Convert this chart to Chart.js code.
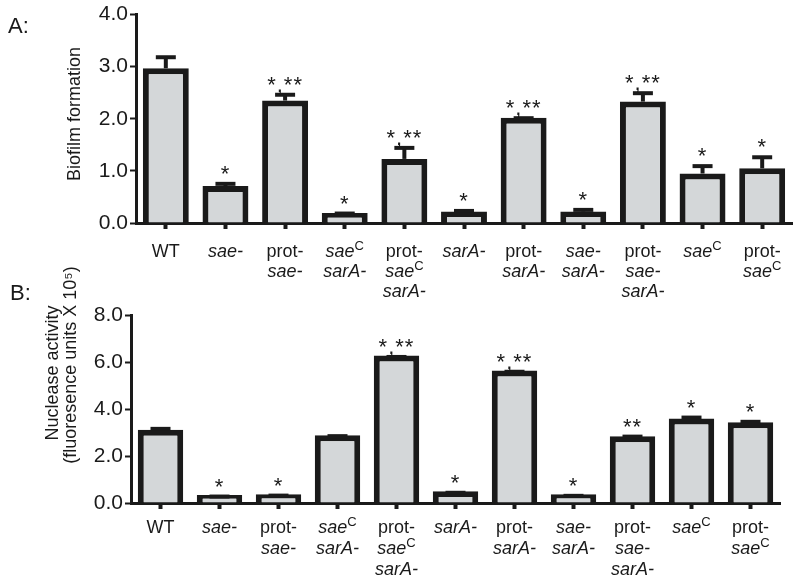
<!DOCTYPE html>
<html>
<head>
<meta charset="utf-8">
<script src="https://cdn.jsdelivr.net/npm/chart.js@4"></script>
<style>
  body { margin: 0; background: #fff; }
  #wrap { position: relative; width: 800px; height: 582px; overflow: hidden; }
  canvas { position: absolute; left: 0; }
  #biofilmChart { top: 0; }
  #nucleaseChart { top: 250px; }
</style>
</head>
<body>
<div id="wrap">
  <canvas id="biofilmChart" width="800" height="300"></canvas>
  <canvas id="nucleaseChart" width="800" height="332"></canvas>
</div>
<script>
// _x_ = italic, ^C = superscript, \n = new line
const categories = ['WT', '_sae-_', 'prot-\n_sae-_', '_sae_^C\n_sarA-_', 'prot-\n_sae_^C\n_sarA-_', '_sarA-_',
  'prot-\n_sarA-_', '_sae-_\n_sarA-_', 'prot-\n_sae-_\n_sarA-_', '_sae_^C', 'prot-\n_sae_^C'];

const biofilm = [2.97, 0.71, 2.35, 0.19, 1.23, 0.22, 2.02, 0.22, 2.33, 0.95, 1.05];
const biofilmErr = [0.25, 0.08, 0.15, 0.03, 0.25, 0.05, 0.03, 0.07, 0.2, 0.18, 0.25];
const biofilmSig = ['', '*', '*,**', '*', '*,**', '*', '*,**', '*', '*,**', '*', '*'];

const nuclease = [3.12, 0.34, 0.37, 2.88, 6.28, 0.5, 5.64, 0.37, 2.84, 3.6, 3.44];
const nucleaseErr = [0.12, 0.02, 0.03, 0.05, 0.02, 0.02, 0.03, 0.02, 0.07, 0.12, 0.1];
const nucleaseSig = ['', '*', '*', '', '*,**', '*', '*,**', '*', '**', '*', '*'];

const FONT = '"Liberation Sans", Arial, Helvetica, sans-serif';
const INK = '#1a1a1a';

function parseLabel(str) {
  return str.split('\n').map(line => {
    const segs = [];
    let italic = false, i = 0, buf = '';
    const push = () => { if (buf) segs.push({text: buf, italic: italic, sup: false}); buf = ''; };
    while (i < line.length) {
      const c = line[i];
      if (c === '_') { push(); italic = !italic; }
      else if (c === '^') { push(); segs.push({text: line[i + 1], italic: false, sup: true}); i++; }
      else buf += c;
      i++;
    }
    push();
    return segs;
  });
}

function segFont(s, size) {
  return (s.italic ? 'italic ' : '') + (s.sup ? Math.round(size * 0.7) : size) + 'px ' + FONT;
}

function drawRichLabel(ctx, str, cx, y, lh, size) {
  parseLabel(str).forEach((segs, li) => {
    let w = 0;
    segs.forEach(s => { ctx.font = segFont(s, size); w += ctx.measureText(s.text).width; });
    let x = cx - w / 2;
    segs.forEach(s => {
      ctx.font = segFont(s, size);
      ctx.fillText(s.text, x, y + li * lh - (s.sup ? size * 0.38 : 0));
      x += ctx.measureText(s.text).width;
    });
  });
}

// error bars, significance stars, rich x labels, y titles, panel letters
const extras = {
  id: 'extras',
  afterDatasetsDraw(chart, args, opts) {
    const ctx = chart.ctx;
    const y = chart.scales.y;
    const meta = chart.getDatasetMeta(0);
    ctx.save();
    ctx.strokeStyle = INK;
    ctx.fillStyle = INK;
    meta.data.forEach((bar, i) => {
      const v = opts.values[i];
      const top = y.getPixelForValue(v + opts.errors[i]);
      ctx.lineWidth = 4;
      ctx.beginPath();
      ctx.moveTo(bar.x, bar.y);
      ctx.lineTo(bar.x, top + 2);
      ctx.stroke();
      ctx.beginPath();
      ctx.moveTo(bar.x - 10, top + 2);
      ctx.lineTo(bar.x + 10, top + 2);
      ctx.stroke();
      if (opts.sig[i]) {
        ctx.font = '22px ' + FONT;
        ctx.letterSpacing = '1px';
        ctx.textAlign = 'center';
        ctx.textBaseline = 'alphabetic';
        ctx.fillText(opts.sig[i], bar.x, top - 1);
        ctx.letterSpacing = '0px';
      }
    });

    ctx.textAlign = 'left';
    ctx.textBaseline = 'alphabetic';
    const x = chart.scales.x;
    categories.forEach((c, i) => {
      drawRichLabel(ctx, c, x.getPixelForValue(i), chart.chartArea.bottom + opts.labelOffset, opts.lineHeight, 18);
    });

    ctx.font = '18px ' + FONT;
    ctx.textAlign = 'center';
    opts.titles.forEach(t => {
      ctx.save();
      ctx.translate(t.x, t.y);
      ctx.rotate(-Math.PI / 2);
      ctx.fillText(t.text, 0, 0);
      ctx.restore();
    });

    ctx.font = '22px ' + FONT;
    ctx.textAlign = 'left';
    ctx.fillText(opts.panel.text, opts.panel.x, opts.panel.y);
    ctx.restore();
  }
};

function makeChart(id, values, errors, sig, max, step, axisX, padding, extraOpts) {
  return new Chart(document.getElementById(id), {
    type: 'bar',
    data: {
      labels: categories,
      datasets: [{
        data: values,
        backgroundColor: '#d4d7d9',
        borderColor: INK,
        borderWidth: 6,
        borderSkipped: 'bottom',
        categoryPercentage: 1,
        barPercentage: 0.77
      }]
    },
    options: {
      responsive: false,
      animation: false,
      layout: {padding: padding},
      plugins: {
        legend: {display: false},
        tooltip: {enabled: false},
        extras: Object.assign({values: values, errors: errors, sig: sig}, extraOpts)
      },
      scales: {
        x: {
          grid: {offset: false, drawOnChartArea: false, tickLength: 6, tickWidth: 4, tickColor: INK},
          border: {display: true, width: 3, color: INK},
          ticks: {display: false}
        },
        y: {
          min: 0,
          max: max,
          afterFit: s => { s.width = axisX; },
          grid: {drawOnChartArea: false, tickLength: 6, tickWidth: 2, tickColor: INK},
          border: {display: true, width: 3, color: INK},
          ticks: {
            stepSize: step,
            padding: 2,
            color: INK,
            font: {family: FONT, size: 21},
            callback: v => v.toFixed(1)
          }
        }
      }
    },
    plugins: [extras]
  });
}

makeChart('biofilmChart', biofilm, biofilmErr, biofilmSig, 4, 1, 136,
  {top: 12, right: 8, bottom: 71, left: 0},
  {labelOffset: 34, lineHeight: 20,
   titles: [{text: 'Biofilm formation', x: 80, y: 114}],
   panel: {text: 'A:', x: 8, y: 33}});

makeChart('nucleaseChart', nuclease, nucleaseErr, nucleaseSig, 8, 2, 131,
  {top: 65, right: 20, bottom: 73, left: 0},
  {labelOffset: 30, lineHeight: 21,
   titles: [{text: 'Nuclease activity', x: 58, y: 123},
            {text: '(fluoresence units X 10\u2075)', x: 76, y: 115}],
   panel: {text: 'B:', x: 10, y: 50}});
</script>
</body>
</html>
